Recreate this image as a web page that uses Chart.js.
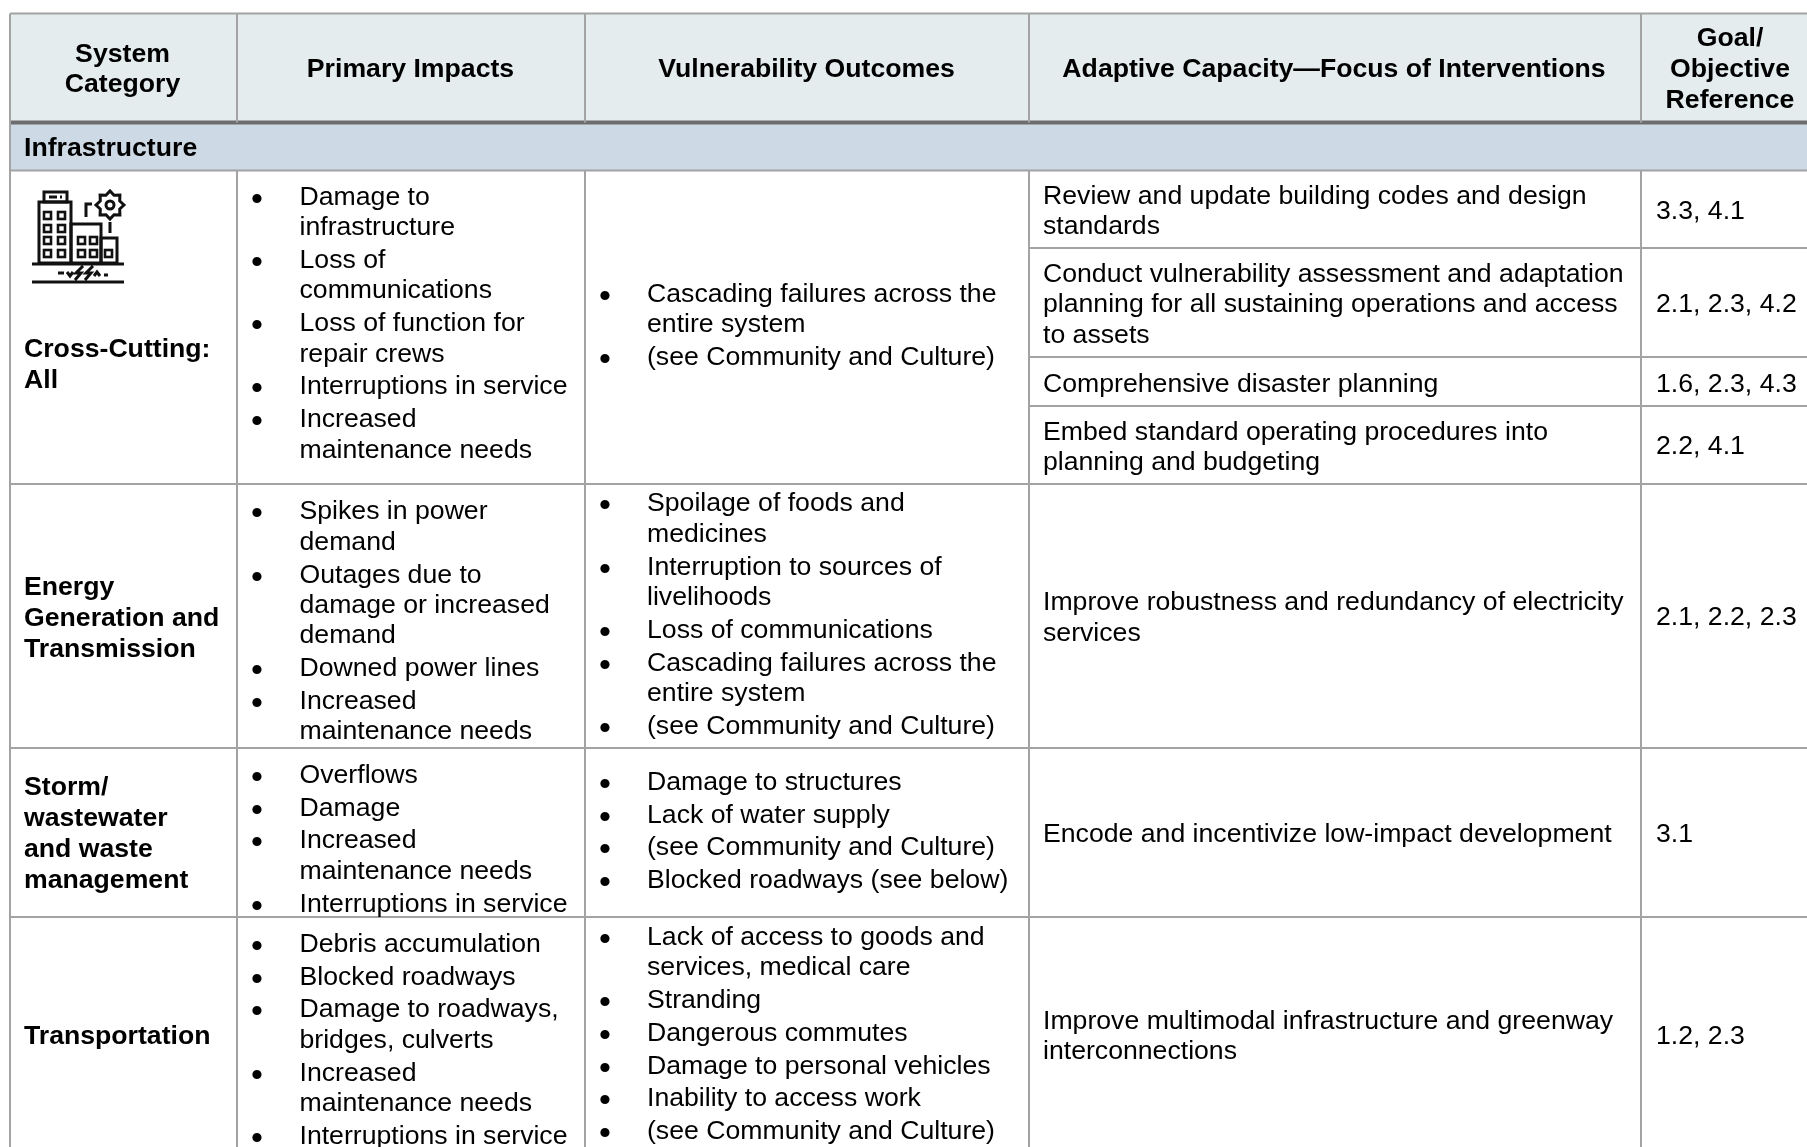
<!DOCTYPE html>
<html>
<head>
<meta charset="utf-8">
<title>Infrastructure vulnerability table</title>
<script src="https://cdn.jsdelivr.net/npm/chart.js@4"></script>
<style>
    html, body { margin: 0; padding: 0; background: #ffffff; overflow: hidden; }
    canvas { display: block; }
</style>
</head>
<body>
<canvas id="table-chart" width="1807" height="1147"></canvas>
<script>
// Table content
const headers = [['System', 'Category'], ['Primary Impacts'], ['Vulnerability Outcomes'], ['Adaptive Capacity—Focus of Interventions'], ['Goal/', 'Objective', 'Reference']];
const sectionTitle = 'Infrastructure';

const systemCategories = [
    ['Cross-Cutting:', 'All'],
    ['Energy', 'Generation and', 'Transmission'],
    ['Storm/', 'wastewater', 'and waste', 'management'],
    ['Transportation']
];

const primaryImpacts = [
    [['Damage to', 'infrastructure'], ['Loss of', 'communications'], ['Loss of function for', 'repair crews'], ['Interruptions in service'], ['Increased', 'maintenance needs']],
    [['Spikes in power', 'demand'], ['Outages due to', 'damage or increased', 'demand'], ['Downed power lines'], ['Increased', 'maintenance needs']],
    [['Overflows'], ['Damage'], ['Increased', 'maintenance needs'], ['Interruptions in service']],
    [['Debris accumulation'], ['Blocked roadways'], ['Damage to roadways,', 'bridges, culverts'], ['Increased', 'maintenance needs'], ['Interruptions in service']]
];

const vulnerabilityOutcomes = [
    [['Cascading failures across the', 'entire system'], ['(see Community and Culture)']],
    [['Spoilage of foods and', 'medicines'], ['Interruption to sources of', 'livelihoods'], ['Loss of communications'], ['Cascading failures across the', 'entire system'], ['(see Community and Culture)']],
    [['Damage to structures'], ['Lack of water supply'], ['(see Community and Culture)'], ['Blocked roadways (see below)']],
    [['Lack of access to goods and', 'services, medical care'], ['Stranding'], ['Dangerous commutes'], ['Damage to personal vehicles'], ['Inability to access work'], ['(see Community and Culture)']]
];

const interventions = [
    ['Review and update building codes and design', 'standards'],
    ['Conduct vulnerability assessment and adaptation', 'planning for all sustaining operations and access', 'to assets'],
    ['Comprehensive disaster planning'],
    ['Embed standard operating procedures into', 'planning and budgeting'],
    ['Improve robustness and redundancy of electricity', 'services'],
    ['Encode and incentivize low-impact development'],
    ['Improve multimodal infrastructure and greenway', 'interconnections']
];

const goalReferences = ['3.3, 4.1', '2.1, 2.3, 4.2', '1.6, 2.3, 4.3', '2.2, 4.1', '2.1, 2.2, 2.3', '3.1', '1.2, 2.3'];

// Layout of the sheet, in page pixels
const PAGE_W = 1807, PAGE_H = 1147;
const tableLeft = 10, tableTop = 13.5, headerBottom = 122.5, sectionBottom = 170.5;
const colEdges = [237, 585, 1029, 1641];
const rowEdges = [484, 748, 917];
const subRowEdges = [248, 357, 406];

const colCenters = [122.5, 410.5, 806.5, 1334, 1730];
const headerLineY = [[55, 85], [70], [70], [70], [39, 70, 101]];
const categoryY = [350, 587.5, 788, 1037];
const primaryY = [197.5, 512, 775.5, 944.5];
const outcomeY = [294.5, 504, 782.5, 937.5];
const interventionY = [196.5, 274.5, 384.5, 432.5, 603, 834.5, 1021.5];
const goalY = [211.5, 304.5, 384.5, 446.5, 618, 834.5, 1036.5];

const FONT = '"Liberation Sans", Arial, sans-serif';
const BODY_SIZE = 26.65;
const BULLET_SIZE = 34;
const LINE_STEP = 30.4, BULLET_STEP = 32.8;
const GRID = '#a3a3a3';

function segment(x1, y1, x2, y2, color, width) {
    return {
        data: [{ x: x1, y: y1 }, { x: x2, y: y2 }],
        borderColor: color,
        borderWidth: width,
        pointRadius: 0,
        showLine: true,
        fill: false,
        order: 1
    };
}

function band(y1, y2, color) {
    return {
        data: [{ x: tableLeft, y: y1 }, { x: PAGE_W, y: y1 }],
        borderWidth: 0,
        borderColor: color,
        backgroundColor: color,
        pointRadius: 0,
        showLine: true,
        fill: { value: y2 },
        order: 2
    };
}

const datasets = [
    band(tableTop, headerBottom, '#e4ecee'),
    band(headerBottom, sectionBottom, '#cdd9e5'),
    segment(tableLeft, tableTop, PAGE_W, tableTop, GRID, 2),
    segment(tableLeft, tableTop, tableLeft, PAGE_H, GRID, 2),
    segment(tableLeft, sectionBottom, PAGE_W, sectionBottom, GRID, 2)
];
colEdges.forEach(x => {
    datasets.push(segment(x, tableTop, x, headerBottom, GRID, 2));
    datasets.push(segment(x, sectionBottom, x, PAGE_H, GRID, 2));
});
rowEdges.forEach(y => datasets.push(segment(tableLeft, y, PAGE_W, y, GRID, 2)));
subRowEdges.forEach(y => datasets.push(segment(colEdges[2], y, PAGE_W, y, GRID, 2)));
datasets.push(segment(tableLeft, headerBottom, PAGE_W, headerBottom, '#6d6d6d', 4));

function drawBullets(ctx, cell, bulletX, textX, startY, sx, sy) {
    let y = startY;
    cell.forEach(item => {
        ctx.textAlign = 'center';
        ctx.font = BULLET_SIZE + 'px ' + FONT;
        ctx.fillText('•', sx(bulletX), sy(y + 3));
        ctx.textAlign = 'left';
        ctx.font = BODY_SIZE + 'px ' + FONT;
        item.forEach((line, i) => {
            ctx.fillText(line, sx(textX), sy(y));
            y += i < item.length - 1 ? LINE_STEP : 0;
        });
        y += BULLET_STEP;
    });
}

// Little building icon in the first cell
function drawIcon(ctx, ox, oy) {
    ctx.save();
    ctx.translate(ox, oy);
    ctx.strokeStyle = '#111111';
    ctx.lineWidth = 3;
    ctx.strokeRect(7, 10, 32, 61);
    ctx.strokeRect(12, 0, 23, 10);
    ctx.strokeRect(39, 32, 30, 39);
    ctx.strokeRect(69, 46, 16, 25);
    ctx.beginPath();
    ctx.moveTo(17, 5); ctx.lineTo(25, 5);
    ctx.moveTo(28, 5); ctx.lineTo(30, 5);
    // ground
    ctx.moveTo(0, 72); ctx.lineTo(92, 72);
    ctx.moveTo(0, 90); ctx.lineTo(92, 90);
    // pipe and stub
    ctx.moveTo(54, 25); ctx.lineTo(54, 12); ctx.lineTo(60, 12);
    ctx.moveTo(78, 30); ctx.lineTo(78, 41);
    // crack
    ctx.moveTo(26, 81); ctx.lineTo(32, 81);
    ctx.moveTo(35, 80); ctx.lineTo(38, 84); ctx.lineTo(41, 80);
    ctx.moveTo(51, 74); ctx.lineTo(44, 81); ctx.lineTo(49, 81); ctx.lineTo(43, 88);
    ctx.moveTo(61, 74); ctx.lineTo(54, 81); ctx.lineTo(59, 81); ctx.lineTo(53, 88);
    ctx.moveTo(62, 84); ctx.lineTo(65, 80); ctx.lineTo(68, 84);
    ctx.moveTo(72, 83); ctx.lineTo(76, 83);
    ctx.stroke();
    // windows
    ctx.lineWidth = 2.6;
    [[12, 20], [26, 20], [12, 33], [26, 33], [12, 45], [26, 45], [12, 58], [26, 58],
     [46, 45], [58, 45], [46, 58], [58, 58], [73, 58]].forEach(w => {
        ctx.strokeRect(w[0], w[1], 7, 7);
    });
    // gear
    ctx.lineWidth = 3;
    ctx.beginPath();
    ctx.arc(78, 13, 4, 0, Math.PI * 2);
    ctx.stroke();
    ctx.beginPath();
    for (let i = 0; i < 16; i++) {
        const r = i % 2 === 0 ? 14 : 10.5;
        const a = (i / 16) * Math.PI * 2;
        const px = 78 + r * Math.cos(a), py = 13 + r * Math.sin(a);
        if (i === 0) ctx.moveTo(px, py); else ctx.lineTo(px, py);
    }
    ctx.closePath();
    ctx.stroke();
    ctx.restore();
}

const tableTextPlugin = {
    id: 'tableText',
    afterDraw(chart) {
        const ctx = chart.ctx;
        const sx = v => chart.scales.x.getPixelForValue(v);
        const sy = v => chart.scales.y.getPixelForValue(v);
        ctx.save();
        ctx.fillStyle = '#000000';
        ctx.textBaseline = 'middle';

        // header row
        ctx.font = 'bold ' + BODY_SIZE + 'px ' + FONT;
        ctx.textAlign = 'center';
        headers.forEach((lines, c) => {
            lines.forEach((line, i) => ctx.fillText(line, sx(colCenters[c]), sy(headerLineY[c][i])));
        });

        // section title and categories
        ctx.textAlign = 'left';
        ctx.fillText(sectionTitle, sx(24), sy(148.5));
        systemCategories.forEach((lines, r) => {
            lines.forEach((line, i) => ctx.fillText(line, sx(24), sy(categoryY[r] + i * 31)));
        });

        // body text
        primaryImpacts.forEach((cell, r) => drawBullets(ctx, cell, 257, 299.5, primaryY[r], sx, sy));
        vulnerabilityOutcomes.forEach((cell, r) => drawBullets(ctx, cell, 605, 647, outcomeY[r], sx, sy));
        ctx.font = BODY_SIZE + 'px ' + FONT;
        ctx.textAlign = 'left';
        interventions.forEach((lines, r) => {
            lines.forEach((line, i) => ctx.fillText(line, sx(1043), sy(interventionY[r] + i * 30.6)));
        });
        goalReferences.forEach((text, r) => ctx.fillText(text, sx(1656), sy(goalY[r])));
        ctx.restore();

        drawIcon(ctx, sx(32), sy(192));
    }
};

const chart = new Chart(document.getElementById('table-chart').getContext('2d'), {
    type: 'scatter',
    data: { datasets: datasets },
    options: {
        responsive: false,
        animation: false,
        layout: { padding: 0 },
        plugins: { legend: { display: false }, tooltip: { enabled: false }, title: { display: false } },
        events: [],
        scales: {
            x: { type: 'linear', min: 0, max: PAGE_W, display: false },
            y: { type: 'linear', min: 0, max: PAGE_H, reverse: true, display: false }
        }
    },
    plugins: [tableTextPlugin]
});
</script>
</body>
</html>
